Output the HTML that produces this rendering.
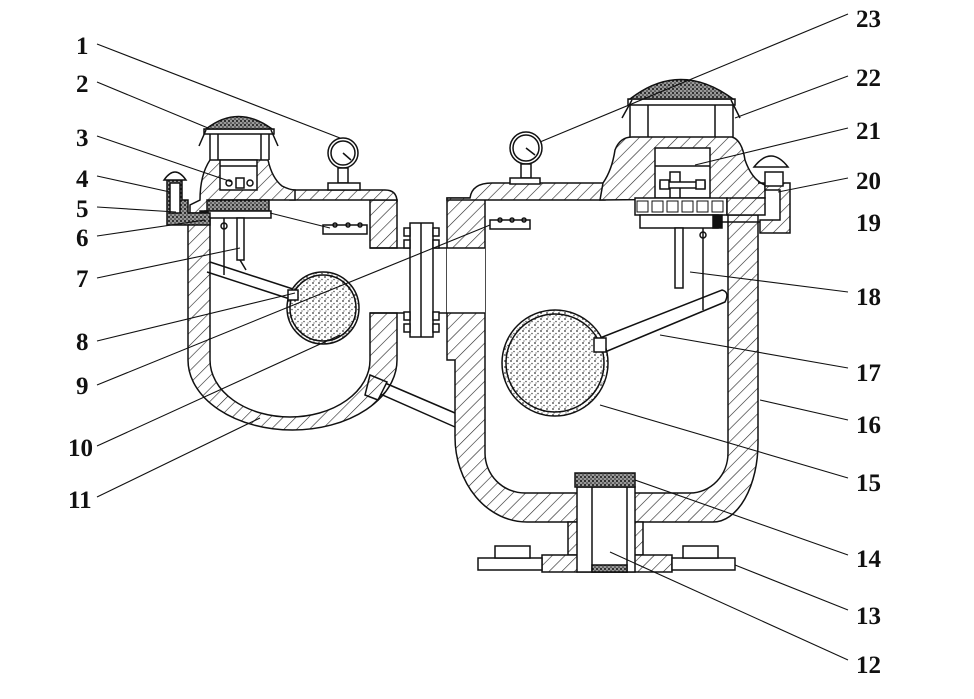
<!DOCTYPE html>
<html><head><meta charset="utf-8"><style>
html,body{margin:0;padding:0;background:#fff;}
svg{display:block}
text{font-family:"Liberation Serif",serif;font-weight:bold;font-size:25px;fill:#111}
</style></head><body>
<svg width="974" height="699" viewBox="0 0 974 699" xmlns="http://www.w3.org/2000/svg">
<defs>
<pattern id="h" width="9" height="9" patternUnits="userSpaceOnUse" patternTransform="rotate(45)">
<rect width="9" height="9" fill="#fff"/><line x1="0" y1="0" x2="0" y2="9" stroke="#222" stroke-width="1.2"/>
</pattern>
<pattern id="d" width="6" height="6" patternUnits="userSpaceOnUse">
<rect width="6" height="6" fill="#fff"/><circle cx="1" cy="1" r="0.9" fill="#333"/><circle cx="4" cy="3.5" r="0.8" fill="#555"/><circle cx="2" cy="5" r="0.6" fill="#444"/>
</pattern>
<pattern id="dd" width="4" height="4" patternUnits="userSpaceOnUse">
<rect width="4" height="4" fill="#999"/><circle cx="1" cy="1" r="1" fill="#111"/><circle cx="3" cy="3" r="0.8" fill="#222"/>
</pattern>
</defs>
<g stroke="#111" stroke-width="1.5" fill="none">

<!-- ============ LEFT VESSEL ============ -->
<path d="M188,213 V360 A104.5,70 0 0 0 397,360 V313 H370 V360 A80,57 0 0 1 210,360 V213 Z" fill="url(#h)"/>
<path d="M370,200 H397 V248 H370 Z" fill="url(#h)"/>
<path d="M290,200 V190 H385 Q397,190 397,202 V200 Z" fill="url(#h)"/>
<path d="M190,213 V205 L200,200 Q200,175 210,160 H268 Q272,178 282,186 Q290,190 295,190 V200 H210 V213 Z" fill="url(#h)"/>
<rect x="220" y="160" width="37" height="30" fill="#fff"/>
<line x1="220" y1="166" x2="257" y2="166"/>
<circle cx="229" cy="183" r="3" /><circle cx="250" cy="183" r="3"/><rect x="236" y="178" width="8" height="10"/>
<path d="M210,160 V133 M218,160 V133 M261,160 V133 M269,160 V133"/>
<rect x="204" y="129" width="70" height="5" fill="#fff"/>
<path d="M206,129 Q238,104 272,129 Z" fill="url(#dd)"/>
<path d="M206,130 L199,146 M271,130 L278,146"/>
<rect x="207" y="200" width="62" height="11" fill="url(#dd)"/>
<rect x="205" y="211" width="66" height="7" fill="#fff"/>
<rect x="200" y="211" width="8" height="7" fill="#111"/>
<!-- valve 4 -->
<path d="M167,180 V225 H210 V213 H188 V200 H182 V180 Z" fill="url(#dd)"/>
<rect x="170" y="183" width="10" height="30" fill="#fff"/>
<path d="M164,180 Q175,164 186,180 Z" fill="#fff"/>
<line x1="97" y1="1" x2="97" y2="1"/>
<line x1="224" y1="218" x2="224" y2="275"/><circle cx="224" cy="226" r="3"/>
<rect x="237" y="218" width="7" height="42" fill="#fff"/>
<path d="M240,260 l6,10"/>
<path d="M210,262 L296,290 M207,272 L293,300"/>
<circle cx="323" cy="308" r="36" fill="url(#d)"/>
<circle cx="323" cy="308" r="33"/>
<rect x="288" y="290" width="10" height="10" fill="#fff"/>
<rect x="323" y="225" width="44" height="9" fill="#fff"/>
<circle cx="335" cy="225" r="2"/><circle cx="348" cy="225" r="2"/><circle cx="360" cy="225" r="2"/>
<circle cx="343" cy="153" r="15" fill="#fff"/><circle cx="343" cy="153" r="12"/>
<line x1="343" y1="153" x2="351" y2="160"/>
<rect x="338" y="168" width="10" height="15" fill="#fff"/>
<rect x="328" y="183" width="32" height="7" fill="#fff"/>
<path d="M370,248 H447 M370,313 H447"/>
<rect x="410" y="223" width="23" height="114" fill="#fff"/>
<line x1="421" y1="223" x2="421" y2="337"/>
<rect x="404" y="228" width="6" height="8" fill="#fff"/><rect x="404" y="240" width="6" height="8" fill="#fff"/>
<rect x="404" y="312" width="6" height="8" fill="#fff"/><rect x="404" y="324" width="6" height="8" fill="#fff"/>
<rect x="433" y="228" width="6" height="8" fill="#fff"/><rect x="433" y="240" width="6" height="8" fill="#fff"/>
<rect x="433" y="312" width="6" height="8" fill="#fff"/><rect x="433" y="324" width="6" height="8" fill="#fff"/>
<path d="M385,383 L455,413 M378,393 L455,427"/>
<path d="M370,375 L387,382 L378,400 L365,395 Z" fill="url(#h)"/>

<!-- ============ RIGHT VESSEL ============ -->
<path d="M447,198 V360 H455 V437 A72,85 0 0 0 527,522 H713 A45,79 0 0 0 758,443 V215 H728 V453 A38,40 0 0 1 690,493 H525 A40,40 0 0 1 485,453 V198 Z" fill="url(#h)"/>
<rect x="447" y="248" width="38" height="65" fill="#fff" stroke="none"/>
<path d="M447,248 H485 M447,313 H485"/>
<path d="M447,200 V198 H470 Q472,183 492,183 H605 V200 Z" fill="url(#h)"/>
<path d="M600,200 L603,183 Q612,170 615,150 Q620,137 632,137 H732 Q742,140 745,160 Q752,180 765,185 V198 Z" fill="url(#h)"/>
<rect x="655" y="148" width="55" height="50" fill="#fff"/>
<line x1="655" y1="166" x2="710" y2="166"/>
<rect x="670" y="172" width="10" height="26" fill="#fff"/><rect x="660" y="182" width="45" height="6" fill="#fff"/>
<rect x="660" y="180" width="9" height="9" fill="#fff"/><rect x="696" y="180" width="9" height="9" fill="#fff"/>
<path d="M630,137 V103 M648,137 V103 M715,137 V103 M733,137 V103"/>
<rect x="628" y="99" width="107" height="6" fill="#fff"/>
<path d="M630,99 Q680,60 733,99 Z" fill="url(#dd)"/>
<path d="M632,100 L622,118 M731,100 L740,118"/>
<rect x="635" y="198" width="92" height="17" fill="#fff"/>
<g stroke-width="1"><rect x="637" y="201" width="11" height="11"/><rect x="652" y="201" width="11" height="11"/><rect x="667" y="201" width="11" height="11"/><rect x="682" y="201" width="11" height="11"/><rect x="697" y="201" width="11" height="11"/><rect x="712" y="201" width="11" height="11"/></g>
<rect x="727" y="198" width="38" height="17" fill="url(#h)"/>
<rect x="640" y="215" width="78" height="13" fill="#fff"/>
<rect x="713" y="215" width="9" height="13" fill="#111"/>
<line x1="720" y1="222" x2="790" y2="222"/>
<path d="M758,183 H790 V233 H760 V220 H780 V190 H765 V183 Z" fill="url(#h)"/>
<rect x="765" y="172" width="18" height="14" fill="#fff"/>
<path d="M754,167 Q771,145 788,167 Z" fill="#fff"/>
<rect x="675" y="228" width="8" height="60" fill="#fff"/>
<line x1="703" y1="228" x2="703" y2="310"/><circle cx="703" cy="235" r="3"/>
<path d="M600,338 L722,290 Q730,292 725,302 L605,352"/>
<circle cx="555" cy="363" r="53" fill="url(#d)"/>
<circle cx="555" cy="363" r="49"/>
<rect x="594" y="338" width="12" height="14" fill="#fff"/>
<rect x="490" y="220" width="40" height="9" fill="#fff"/>
<circle cx="500" cy="220" r="2"/><circle cx="512" cy="220" r="2"/><circle cx="524" cy="220" r="2"/>
<circle cx="526" cy="148" r="16" fill="#fff"/><circle cx="526" cy="148" r="13"/>
<line x1="526" y1="148" x2="535" y2="155"/>
<rect x="521" y="164" width="10" height="14" fill="#fff"/>
<rect x="510" y="178" width="30" height="6" fill="#fff"/>
<rect x="568" y="522" width="75" height="33" fill="url(#h)"/>
<rect x="542" y="555" width="130" height="17" fill="url(#h)"/>
<rect x="478" y="558" width="64" height="12" fill="#fff"/>
<rect x="672" y="558" width="63" height="12" fill="#fff"/>
<rect x="495" y="546" width="35" height="12" fill="#fff"/><rect x="683" y="546" width="35" height="12" fill="#fff"/>
<rect x="577" y="487" width="58" height="85" fill="#fff"/>
<rect x="592" y="487" width="35" height="85" fill="#fff"/>
<rect x="575" y="473" width="60" height="14" fill="url(#dd)"/>
<rect x="592" y="565" width="35" height="7" fill="url(#dd)"/>

<g stroke-width="1.1">
<line x1="97" y1="44" x2="340" y2="138"/>
<line x1="97" y1="82" x2="208" y2="128"/>
<line x1="97" y1="136" x2="232" y2="182"/>
<line x1="97" y1="176" x2="170" y2="192"/>
<line x1="97" y1="207" x2="176" y2="212"/>
<line x1="97" y1="236" x2="205" y2="220"/>
<line x1="97" y1="278" x2="240" y2="248"/>
<line x1="97" y1="341" x2="295" y2="293"/>
<line x1="97" y1="385" x2="490" y2="225"/>
<line x1="97" y1="446" x2="340" y2="335"/>
<line x1="97" y1="497" x2="260" y2="418"/>
<line x1="270" y1="213" x2="330" y2="228"/>
<line x1="848" y1="14" x2="540" y2="142"/>
<line x1="848" y1="76" x2="735" y2="118"/>
<line x1="848" y1="128" x2="695" y2="165"/>
<line x1="848" y1="178" x2="778" y2="192"/>
<line x1="848" y1="292" x2="690" y2="272"/>
<line x1="848" y1="368" x2="660" y2="335"/>
<line x1="848" y1="420" x2="760" y2="400"/>
<line x1="848" y1="478" x2="600" y2="405"/>
<line x1="848" y1="555" x2="635" y2="480"/>
<line x1="848" y1="610" x2="735" y2="565"/>
<line x1="848" y1="660" x2="610" y2="552"/>
</g>
</g>
<text x="76" y="54">1</text>
<text x="76" y="92">2</text>
<text x="76" y="146">3</text>
<text x="76" y="187">4</text>
<text x="76" y="217">5</text>
<text x="76" y="246">6</text>
<text x="76" y="287">7</text>
<text x="76" y="350">8</text>
<text x="76" y="394">9</text>
<text x="68" y="456">10</text>
<text x="68" y="508">11</text>
<text x="856" y="27">23</text>
<text x="856" y="86">22</text>
<text x="856" y="139">21</text>
<text x="856" y="189">20</text>
<text x="856" y="231">19</text>
<text x="856" y="305">18</text>
<text x="856" y="381">17</text>
<text x="856" y="433">16</text>
<text x="856" y="491">15</text>
<text x="856" y="567">14</text>
<text x="856" y="624">13</text>
<text x="856" y="673">12</text>
</svg>
</body></html>
